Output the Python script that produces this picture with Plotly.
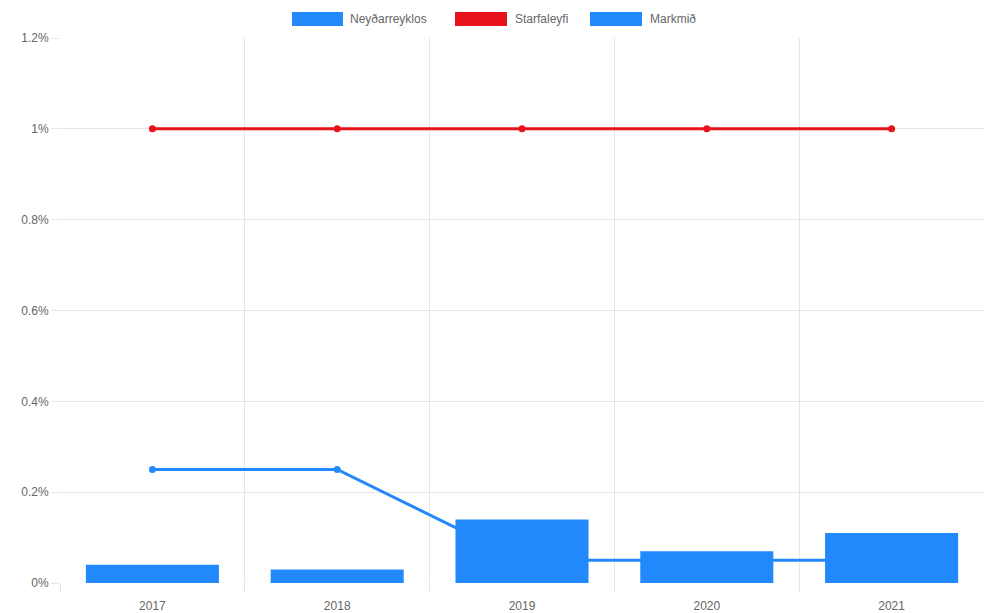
import plotly.graph_objects as go

categories = ["2017", "2018", "2019", "2020", "2021"]
neydarreyklos = [0.04, 0.03, 0.14, 0.07, 0.11]
starfaleyfi = [1.0, 1.0, 1.0, 1.0, 1.0]
markmid = [0.25, 0.25, 0.05, 0.05, 0.05]
y_ticks = [0, 0.2, 0.4, 0.6, 0.8, 1.0, 1.2]
y_ticktext = ["0%", "0.2%", "0.4%", "0.6%", "0.8%", "1%", "1.2%"]
legend_names = ["Neyðarreyklos", "Starfaleyfi", "Markmið"]

BLUE = "#2189fb"
RED = "#e8121a"
GRID = "#e6e6e6"
TXT = "#666666"
FONT = "Liberation Sans, Arial, sans-serif"

xs = list(range(len(categories)))

fig = go.Figure()
fig.add_trace(go.Scatter(x=xs, y=markmid, mode="lines+markers", name=legend_names[2],
                         line=dict(color=BLUE, width=3), marker=dict(color=BLUE, size=7),
                         zorder=0, showlegend=False))
fig.add_trace(go.Bar(x=xs, y=neydarreyklos, name=legend_names[0], marker=dict(color=BLUE, line=dict(width=0)),
                     zorder=1, showlegend=False))
fig.add_trace(go.Scatter(x=xs, y=starfaleyfi, mode="lines+markers", name=legend_names[1],
                         line=dict(color=RED, width=3), marker=dict(color=RED, size=7),
                         zorder=2, showlegend=False))

# custom legend (Chart.js style boxes)
leg = [(292, 343, 348, legend_names[0], BLUE), (455, 507, 513, legend_names[1], RED),
       (590, 642, 648, legend_names[2], BLUE)]
shapes = []
annotations = []
for x0, x1, tx, name, col in leg:
    shapes.append(dict(type="rect", xref="paper", yref="paper",
                       x0=(x0 - 60) / 924, x1=(x1 - 60) / 924,
                       y0=(583 - 26) / 545, y1=(583 - 12) / 545,
                       fillcolor=col, line=dict(width=0)))
    annotations.append(dict(x=(tx - 60) / 924, y=(583 - 19) / 545, xref="paper", yref="paper",
                            text=name, showarrow=False, xanchor="left", yanchor="middle",
                            font=dict(family=FONT, size=12, color=TXT)))

fig.update_layout(
    width=984, height=613,
    margin=dict(l=60, r=0, t=38, b=30),
    paper_bgcolor="white", plot_bgcolor="white",
    bargap=0.28,
    shapes=shapes, annotations=annotations,
    font=dict(family=FONT, size=12, color=TXT),
    xaxis=dict(range=[-0.5, 4.5], tickvals=xs, ticktext=categories, showgrid=False,
               ticks="", showline=True, linecolor="#d0d0d0", linewidth=1, zeroline=False,
               ticklabelstandoff=12,
               minor=dict(tickvals=[-0.5, 0.5, 1.5, 2.5, 3.5, 4.5], showgrid=True, gridcolor=GRID,
                          ticks="outside", ticklen=8, tickcolor=GRID, gridwidth=1),
               tickfont=dict(family=FONT, size=12, color=TXT), fixedrange=True),
    yaxis=dict(range=[0, 1.2], tickvals=y_ticks, ticktext=y_ticktext, showgrid=True, gridcolor=GRID,
               ticks="outside", ticklen=8, tickcolor=GRID, showline=True, linecolor="#d0d0d0",
               zeroline=False, tickfont=dict(family=FONT, size=12, color=TXT), fixedrange=True),
)

fig.write_html("out.html")
